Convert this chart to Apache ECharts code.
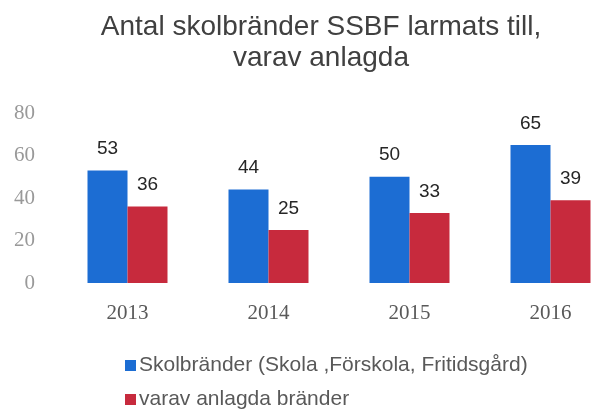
<!DOCTYPE html>
<html>
<head>
<meta charset="utf-8">
<script src="https://cdn.jsdelivr.net/npm/echarts@6/dist/echarts.min.js"></script>
<style>
  html, body { margin: 0; padding: 0; background: #fff; }
  #chart { width: 594px; height: 416px; }
</style>
</head>
<body>
<div id="chart"></div>
<script>
// Data
const years = ['2013', '2014', '2015', '2016'];
const skolbrander = [53, 44, 50, 65];
const anlagda = [36, 25, 33, 39];
const yTicks = { min: 0, max: 80, interval: 20 };

const chart = echarts.init(document.getElementById('chart'));

const labelStyle = {
  show: true,
  position: 'top',
  distance: 12,
  color: '#262626',
  fontFamily: 'Liberation Sans',
  fontSize: 19
};

chart.setOption({
  backgroundColor: '#ffffff',
  animation: false,
  title: {
    text: 'Antal skolbränder SSBF larmats till,\nvarav anlagda',
    left: 321,
    top: 12,
    padding: 0,
    textAlign: 'center',
    textStyle: {
      fontFamily: 'Liberation Sans',
      fontSize: 28,
      fontWeight: 'normal',
      lineHeight: 31,
      color: '#404040'
    }
  },
  legend: {
    orient: 'vertical',
    left: 125,
    top: 355,
    height: 100,
    padding: 0,
    itemWidth: 11,
    itemHeight: 11,
    itemGap: 13,
    icon: 'rect',
    textStyle: {
      fontFamily: 'Liberation Sans',
      fontSize: 21,
      color: '#595959',
      padding: [0, 0, 0, -2]
    },
    data: ['Skolbränder (Skola ,Förskola, Fritidsgård)', 'varav anlagda bränder']
  },
  grid: {
    left: 57,
    top: 113,
    width: 564,
    height: 170,
    containLabel: false,
    outerBoundsMode: 'none'
  },
  xAxis: {
    type: 'category',
    data: years,
    axisLine: { show: false },
    axisTick: { show: false },
    axisLabel: {
      margin: 20,
      fontFamily: 'Liberation Serif',
      fontSize: 21,
      color: '#595959'
    }
  },
  yAxis: {
    type: 'value',
    min: yTicks.min,
    max: yTicks.max,
    interval: yTicks.interval,
    splitLine: { show: false },
    axisLine: { show: false },
    axisTick: { show: false },
    axisLabel: {
      margin: 22,
      fontFamily: 'Liberation Serif',
      fontSize: 21,
      color: '#999999'
    }
  },
  series: [
    {
      name: 'Skolbränder (Skola ,Förskola, Fritidsgård)',
      type: 'bar',
      data: skolbrander,
      barWidth: 40,
      barGap: '0%',
      itemStyle: { color: '#1c6dd3' },
      label: labelStyle
    },
    {
      name: 'varav anlagda bränder',
      type: 'bar',
      data: anlagda,
      barWidth: 40,
      itemStyle: { color: '#c72a3d' },
      label: labelStyle
    }
  ]
});
</script>
</body>
</html>
